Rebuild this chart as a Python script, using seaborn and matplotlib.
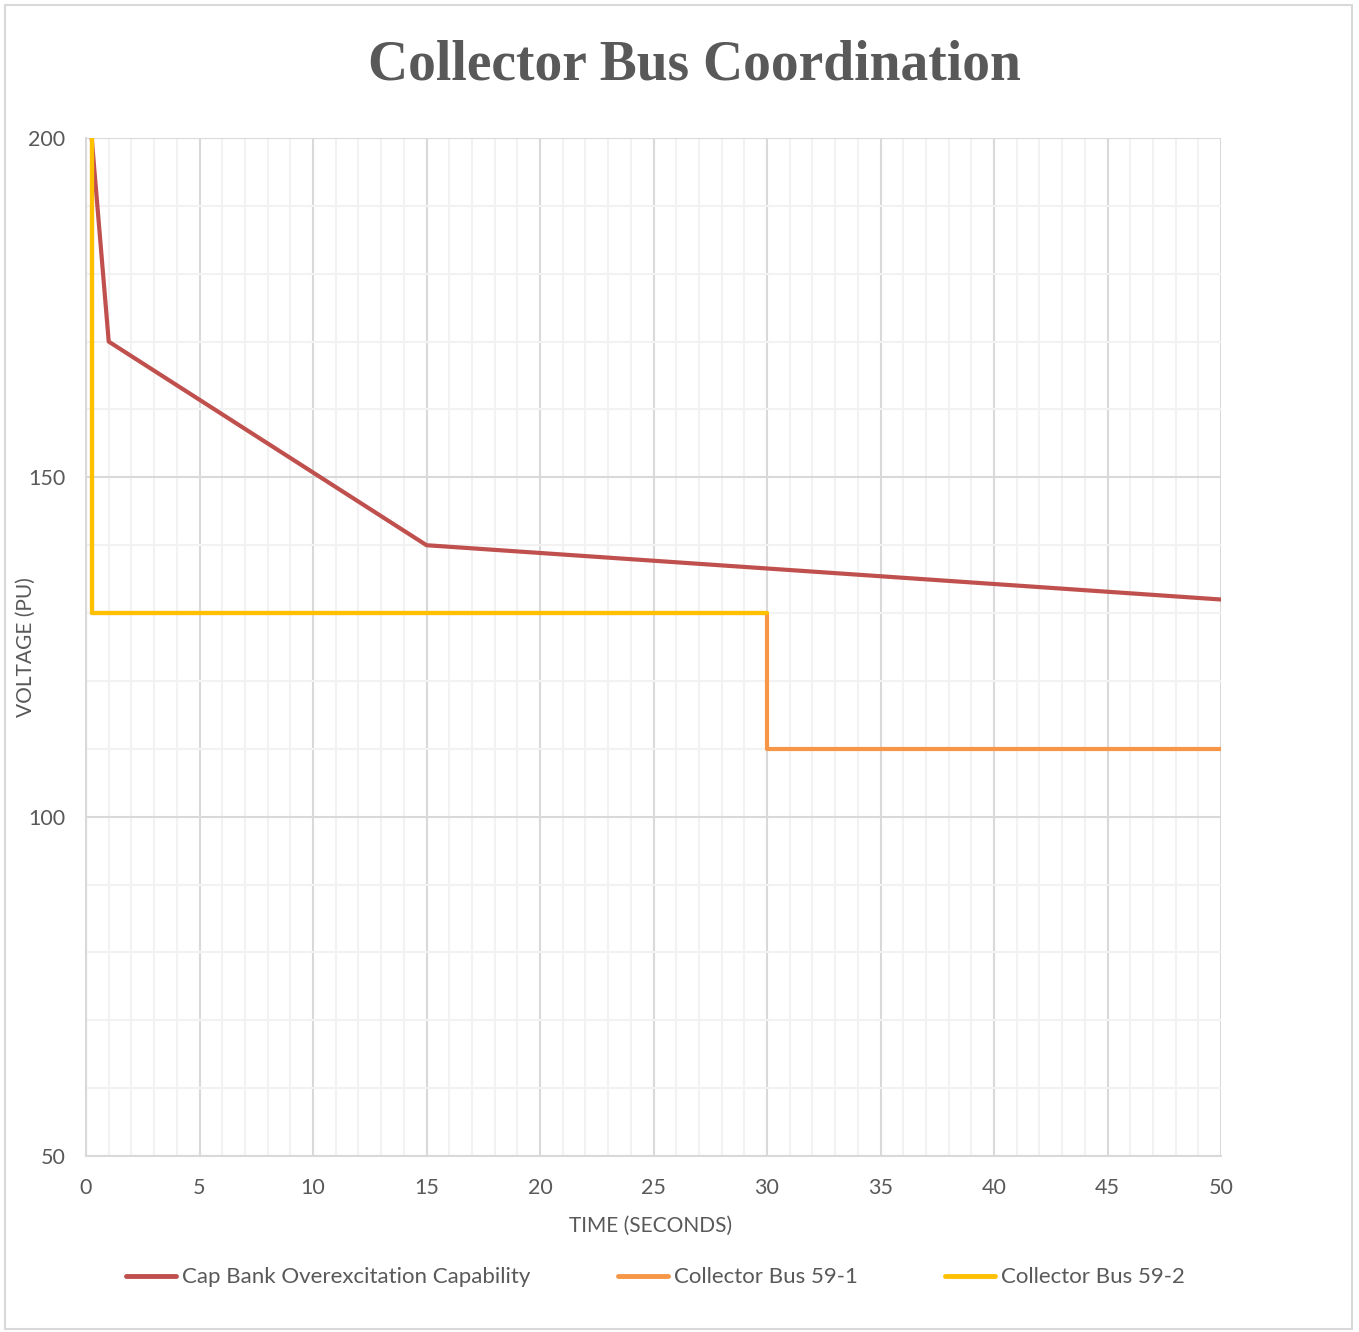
import numpy as np
import pandas as pd
import matplotlib
matplotlib.use('Agg')
import matplotlib.pyplot as plt
import seaborn as sns
from matplotlib.ticker import MultipleLocator
from matplotlib.patches import Rectangle

# data
cap_time = [0.25, 1, 15, 50]
cap_volt = [200, 170, 140, 132]
bus1_time = [0.25, 0.25, 30, 30, 50]
bus1_volt = [200, 130, 130, 110, 110]
bus2_time = [0.25, 0.25, 30]
bus2_volt = [200, 130, 130]
labels = ['Cap Bank Overexcitation Capability', 'Collector Bus 59-1', 'Collector Bus 59-2']
colors = ['#C0504D', '#F79646', '#FFC000']

frames = []
for lab, t, v in zip(labels, [cap_time, bus1_time, bus2_time], [cap_volt, bus1_volt, bus2_volt]):
    frames.append(pd.DataFrame({'time': t, 'volt': v, 'series': lab}))
df = pd.concat(frames, ignore_index=True)

sns.set_theme(style='white')
plt.rcParams['font.family'] = ['Lato', 'DejaVu Sans']
txt = '#595959'

fig = plt.figure(figsize=(13.59, 13.32), dpi=100)
ax = fig.add_axes([0.0633, 0.1321, 0.8352, 0.7643])

sns.lineplot(data=df, x='time', y='volt', hue='series', palette=colors, hue_order=labels,
             sort=False, estimator=None, units='series', linewidth=3, ax=ax, legend=False)

ax.set_xlim(0, 50)
ax.set_ylim(50, 200)
ax.xaxis.set_major_locator(MultipleLocator(5))
ax.xaxis.set_minor_locator(MultipleLocator(1))
ax.yaxis.set_major_locator(MultipleLocator(50))
ax.yaxis.set_minor_locator(MultipleLocator(10))
ax.grid(which='major', color='#D9D9D9', linewidth=1.5, zorder=0)
ax.grid(which='minor', color='#F2F2F2', linewidth=1.5, zorder=0)
ax.set_axisbelow(True)
for s in ['top', 'right']:
    ax.spines[s].set_visible(False)
for s in ['left', 'bottom']:
    ax.spines[s].set_color('#D9D9D9')
    ax.spines[s].set_linewidth(1.5)
ax.tick_params(which='both', length=0, labelsize=15.5, labelcolor=txt)
ax.tick_params(axis='y', pad=15)
ax.tick_params(axis='x', pad=16)

ax.set_xlabel('TIME (SECONDS)', fontsize=15, color=txt)
ax.set_ylabel('VOLTAGE (PU)', fontsize=15, color=txt)
ax.xaxis.set_label_coords(0.497, -0.059)
ax.yaxis.set_label_coords(-0.044, 0.5)

fig.text(0.511, 0.951, 'Collector Bus Coordination', ha='center', va='center',
         fontsize=40, fontweight='bold', color=txt, family='Liberation Serif')

handles = [plt.Line2D([], [], color=c, linewidth=3.5) for c in colors]
fig.legend(handles, labels, loc='center', bbox_to_anchor=(0.4823, 0.041), ncol=3,
           frameon=False, fontsize=16, labelcolor=txt, handlelength=2.25,
           handletextpad=0.25, columnspacing=3.95)

fig.patches.append(Rectangle((0.004, 0.002), 0.991, 0.994, transform=fig.transFigure,
                             fill=False, edgecolor='#D9D9D9', linewidth=1.5))

plt.savefig('out.png', dpi=100)
